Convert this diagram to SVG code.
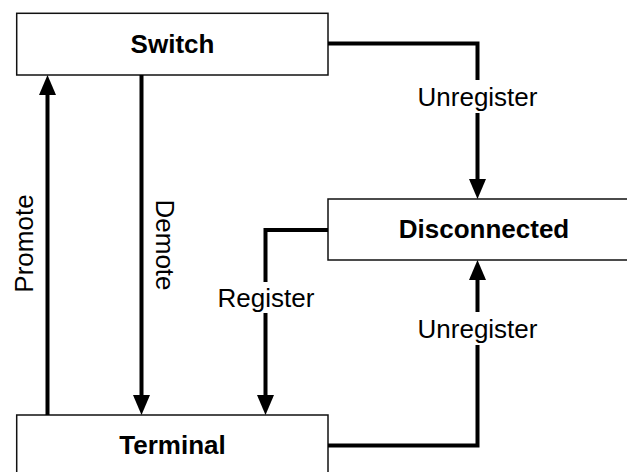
<svg xmlns="http://www.w3.org/2000/svg" width="627" height="472" viewBox="0 0 627 472">
  <style>
    .box { fill: #fff; stroke: #111; stroke-width: 1.5; }
    .title { font-family: "Liberation Sans", Arial, sans-serif; font-size: 26px; font-weight: bold; fill: #000; text-anchor: middle; }
    .lbl { font-family: "Liberation Sans", Arial, sans-serif; font-size: 26px; fill: #000; text-anchor: middle; }
    .conn { fill: none; stroke: #000; stroke-width: 4; stroke-linejoin: miter; marker-end: url(#arrow); }
  </style>
  <defs>
    <marker id="arrow" markerUnits="userSpaceOnUse" markerWidth="22" markerHeight="20" refX="0" refY="10" orient="auto" viewBox="0 0 22 20">
      <path d="M0,1.5 L20,10 L0,18.5 Z" fill="#000"/>
    </marker>
  </defs>
  <g id="node-switch">
    <rect class="box" x="16.7" y="13.3" width="311.3" height="61.7"/>
    <text class="title" x="172.5" y="52.8">Switch</text>
  </g>
  <g id="node-disconnected">
    <rect class="box" x="328" y="199" width="320" height="61"/>
    <text class="title" x="484" y="238">Disconnected</text>
  </g>
  <g id="node-terminal">
    <rect class="box" x="16.7" y="415" width="311.3" height="65"/>
    <text class="title" x="172.5" y="453.5">Terminal</text>
  </g>
  <g id="connectors">
    <path class="conn" d="M328,43.5 H477.5 V80 M477.5,113 V179"/>
    <path class="conn" d="M328,445.5 H477.5 V345 M477.5,312 V280"/>
    <path class="conn" d="M328,230 H265.5 V282 M265.5,313 V395"/>
    <path class="conn" d="M47.5,415 V95"/>
    <path class="conn" d="M141.5,75 V395"/>
    <text class="lbl" x="477.5" y="105.5">Unregister</text>
    <text class="lbl" x="477.5" y="337.5">Unregister</text>
    <text class="lbl" x="266" y="306.5">Register</text>
    <text class="lbl" transform="translate(33,243.5) rotate(-90)">Promote</text>
    <text class="lbl" transform="translate(156,245) rotate(90)">Demote</text>
  </g>
</svg>
